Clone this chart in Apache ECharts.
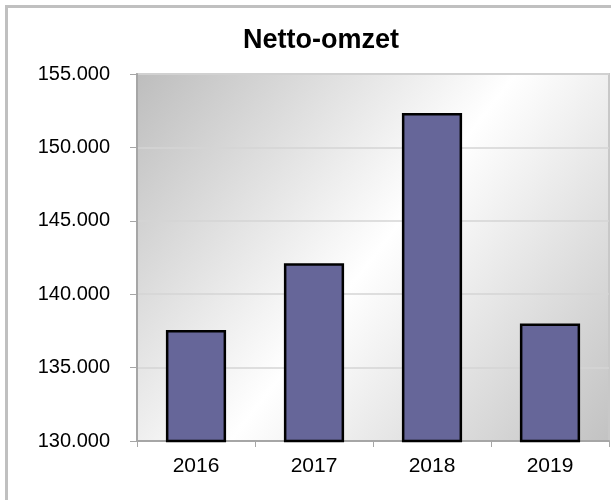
<!DOCTYPE html>
<html>
<head>
<meta charset="utf-8">
<title>Netto-omzet</title>
<script src="https://cdn.jsdelivr.net/npm/echarts@6/dist/echarts.min.js"></script>
<style>
  html, body { margin: 0; padding: 0; background: #fff; }
  #chart { width: 611px; height: 500px; }
</style>
</head>
<body>
<div id="chart"></div>
<script>
// 数据
const jaren = ['2016', '2017', '2018', '2019'];
const omzet = [137560, 142100, 152350, 138000];
const yMin = 130000;
const yMax = 155000;
const yStap = 5000;

// 千位用点号分隔 (nl)
function formatNl(v) {
    return String(v).replace(/\B(?=(\d{3})+(?!\d))/g, '.');
}

const chart = echarts.init(document.getElementById('chart'), null, { renderer: 'canvas' });

chart.setOption({
    animation: false,
    textStyle: { fontFamily: 'Liberation Sans, Arial, sans-serif' },
    title: {
        text: 'Netto-omzet',
        left: 316,
        top: 22,
        textAlign: 'center',
        textStyle: { fontSize: 27, fontWeight: 'bold', color: '#000' }
    },
    graphic: [{
        type: 'rect',
        shape: { x: 6.5, y: 6.5, width: 640, height: 540 },
        style: { fill: 'none', stroke: '#c0c0c0', lineWidth: 3 },
        silent: true,
        z: -10
    }],
    grid: {
        left: 137,
        top: 74,
        right: 2,
        bottom: 59,
        show: true,
        borderColor: '#c8c8c8',
        borderWidth: 2,
        backgroundColor: new echarts.graphic.LinearGradient(0, 0, 1, 1, [
            { offset: 0, color: '#bdbdbd' },
            { offset: 0.5, color: '#ffffff' },
            { offset: 1, color: '#c2c2c2' }
        ])
    },
    xAxis: {
        type: 'category',
        data: jaren,
        axisLine: { lineStyle: { color: '#a6a6a6', width: 2 } },
        axisTick: { show: true, length: 6, lineStyle: { color: '#a6a6a6', width: 1 } },
        axisLabel: { fontSize: 21, color: '#000', margin: 15 }
    },
    yAxis: {
        type: 'value',
        min: yMin,
        max: yMax,
        interval: yStap,
        axisLine: { show: true, lineStyle: { color: '#a6a6a6', width: 2 } },
        axisTick: { show: true, length: 7, lineStyle: { color: '#a6a6a6', width: 1 } },
        splitLine: { lineStyle: { color: '#d4d4d4', width: 1.5 } },
        axisLabel: { fontSize: 20, color: '#000', margin: 27, formatter: formatNl }
    },
    series: [{
        type: 'bar',
        data: omzet,
        barWidth: '51%',
        itemStyle: { color: '#666699', borderColor: '#000', borderWidth: 2.5 }
    }]
});
</script>
</body>
</html>
